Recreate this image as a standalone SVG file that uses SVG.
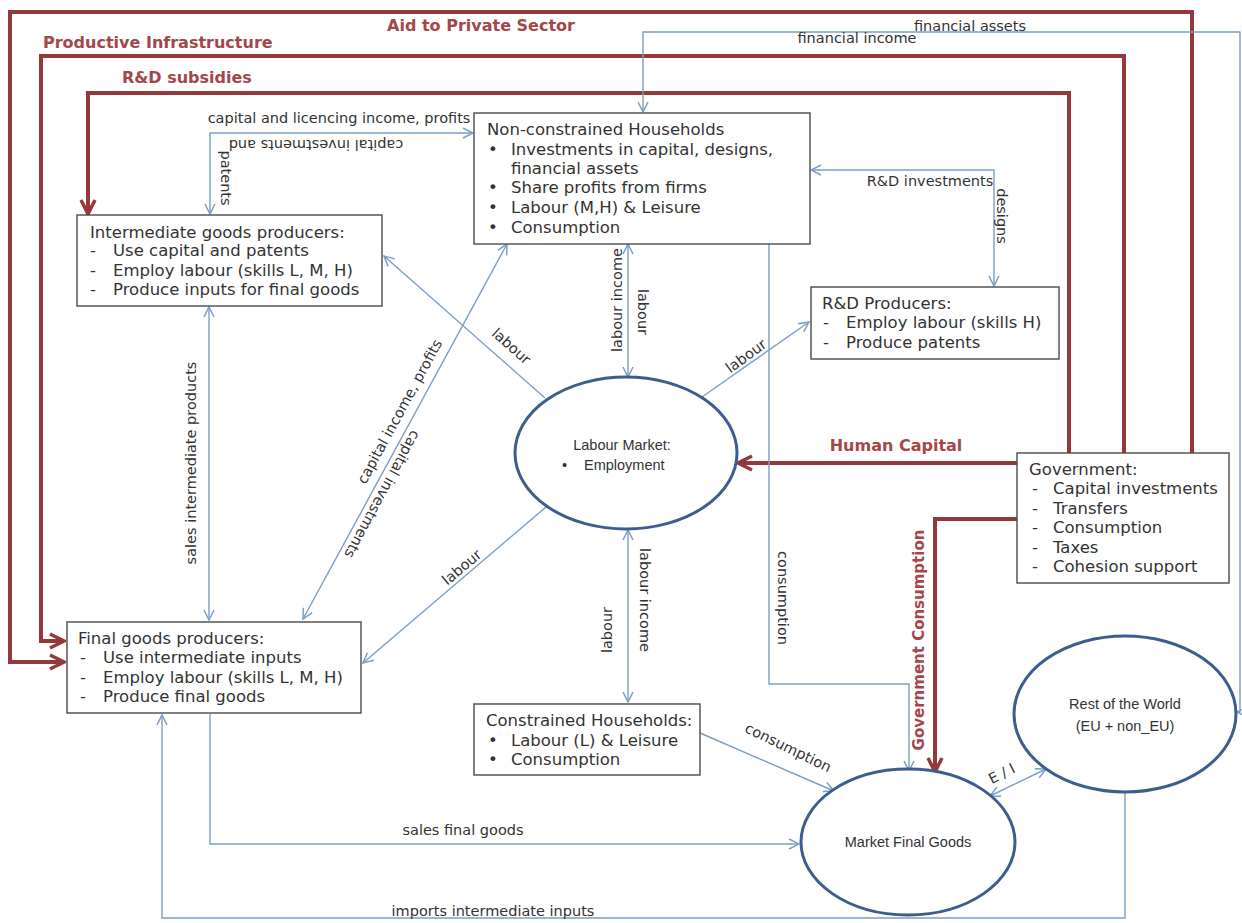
<svg xmlns="http://www.w3.org/2000/svg" width="1242" height="923" viewBox="0 0 1242 923">
<defs>
<style>
.bx{fill:#fff;stroke:#4a4a4a;stroke-width:1.4}
.el{fill:#fff;stroke:#3d5d8c;stroke-width:3}
.t{font-family:"DejaVu Sans",Verdana,sans-serif;font-size:16.5px;fill:#333}
.e{font-family:"Liberation Sans",Arial,sans-serif;font-size:14.5px;fill:#333}
.lb{font-family:"DejaVu Sans",Verdana,sans-serif;font-size:14.5px;fill:#333}
.rt{font-family:"DejaVu Sans",Verdana,sans-serif;font-size:16px;font-weight:bold;fill:#a3474a}
.bl{fill:none;stroke:#7b9ec4;stroke-width:1.4}
.rd{fill:none;stroke:#93393c;stroke-width:4}
</style>
<marker id="ab" viewBox="0 0 12 12" refX="11" refY="6" markerWidth="12" markerHeight="12" markerUnits="userSpaceOnUse" orient="auto-start-reverse"><path d="M1,1 L11,6 L1,11" fill="none" stroke="#7b9ec4" stroke-width="1.5"/></marker>
<marker id="ar" viewBox="0 0 18 18" refX="16" refY="9" markerWidth="18" markerHeight="18" markerUnits="userSpaceOnUse" orient="auto"><path d="M2,2 L16,9 L2,16" fill="none" stroke="#93393c" stroke-width="3.5"/></marker>
</defs>
<rect width="1242" height="923" fill="#fff"/>

<g id="connectors">
<path class="rd" d="M1192,453 V12 H10 V662 H64" marker-end="url(#ar)"/>
<path class="rd" d="M1124,453 V56 H41 V641 H64" marker-end="url(#ar)"/>
<path class="rd" d="M1069,453 V93 H88 V214" marker-end="url(#ar)"/>
<path class="rd" d="M1017,463 H738" marker-end="url(#ar)"/>
<path class="rd" d="M1017,519 H935 V772" marker-end="url(#ar)"/>
<path class="bl" d="M1236,712 H1240 V32 H643 V112" marker-end="url(#ab)"/>
<path class="bl" d="M1240,712 H1237" marker-end="url(#ab)"/>
<path class="bl" d="M210,214 V133 H473" marker-start="url(#ab)" marker-end="url(#ab)"/>
<path class="bl" d="M994,286 V170 H811" marker-start="url(#ab)" marker-end="url(#ab)"/>
<path class="bl" d="M209,307 V620" marker-start="url(#ab)" marker-end="url(#ab)"/>
<path class="bl" d="M545,398 L384,256" marker-end="url(#ab)"/>
<path class="bl" d="M303,619 L507,244" marker-start="url(#ab)" marker-end="url(#ab)"/>
<path class="bl" d="M628,244 V377" marker-start="url(#ab)" marker-end="url(#ab)"/>
<path class="bl" d="M702,397 L809,322" marker-end="url(#ab)"/>
<path class="bl" d="M546,507 L363,663" marker-end="url(#ab)"/>
<path class="bl" d="M628,530 V702" marker-start="url(#ab)" marker-end="url(#ab)"/>
<path class="bl" d="M769,222 V684 H909 V771" marker-end="url(#ab)"/>
<path class="bl" d="M700,733 L834,791" marker-end="url(#ab)"/>
<path class="bl" d="M210,714 V844 H799" marker-end="url(#ab)"/>
<path class="bl" d="M1125,793 V918 H162 V715" marker-end="url(#ab)"/>
<path class="bl" d="M990,796 L1046,769" marker-start="url(#ab)" marker-end="url(#ab)"/>
</g>

<g id="labels">
<text class="rt" x="481" y="31" text-anchor="middle">Aid to Private Sector</text>
<text class="rt" x="43" y="48">Productive Infrastructure</text>
<text class="rt" x="122" y="83">R&amp;D subsidies</text>
<text class="rt" x="896" y="451" text-anchor="middle">Human Capital</text>
<text class="rt" text-anchor="middle" style="font-size:15px" transform="translate(924,640) rotate(-90)">Government Consumption</text>
<text class="lb" x="857" y="43" text-anchor="middle">financial income</text>
<text class="lb" x="970" y="31" text-anchor="middle">financial assets</text>
<text class="lb" x="339" y="123" text-anchor="middle">capital and licencing income, profits</text>
<text class="lb" text-anchor="middle" transform="translate(316,140) rotate(180)">capital investments and</text>
<text class="lb" text-anchor="middle" transform="translate(221,178) rotate(90)">patents</text>
<text class="lb" x="930" y="186" text-anchor="middle">R&amp;D investments</text>
<text class="lb" text-anchor="middle" transform="translate(997,216) rotate(90)">designs</text>
<text class="lb" text-anchor="middle" transform="translate(196,463) rotate(-90)">sales intermediate products</text>
<text class="lb" text-anchor="middle" transform="translate(508,350) rotate(41.6)">labour</text>
<text class="lb" text-anchor="middle" transform="translate(404,414) rotate(-61.5)">capital income, profits</text>
<text class="lb" text-anchor="middle" transform="translate(378,492) rotate(118.5)">capital investments</text>
<text class="lb" text-anchor="middle" transform="translate(622,300) rotate(-90)">labour income</text>
<text class="lb" text-anchor="middle" transform="translate(638,312) rotate(90)">labour</text>
<text class="lb" text-anchor="middle" transform="translate(749,360) rotate(-36)">labour</text>
<text class="lb" text-anchor="middle" transform="translate(465,571) rotate(-40)">labour</text>
<text class="lb" text-anchor="middle" transform="translate(612,630) rotate(-90)">labour</text>
<text class="lb" text-anchor="middle" transform="translate(640,600) rotate(90)">labour income</text>
<text class="lb" text-anchor="middle" transform="translate(778,598) rotate(90)">consumption</text>
<text class="lb" text-anchor="middle" transform="translate(786,752) rotate(26)">consumption</text>
<text class="lb" x="463" y="835" text-anchor="middle">sales final goods</text>
<text class="lb" x="493" y="916" text-anchor="middle">imports intermediate inputs</text>
<text class="lb" text-anchor="middle" transform="translate(1004,778) rotate(-27)">E / I</text>
</g>

<g id="non-constrained-households">
<rect class="bx" x="474" y="113" width="336" height="131"/>
<text class="t" x="487" y="135">Non-constrained Households</text>
<text class="t" x="488" y="155">•</text><text class="t" x="511" y="155">Investments in capital, designs,</text>
<text class="t" x="511" y="174">financial assets</text>
<text class="t" x="488" y="193">•</text><text class="t" x="511" y="193">Share profits from firms</text>
<text class="t" x="488" y="213">•</text><text class="t" x="511" y="213">Labour (M,H) &amp; Leisure</text>
<text class="t" x="488" y="233">•</text><text class="t" x="511" y="233">Consumption</text>
</g>

<g id="intermediate-goods-producers">
<rect class="bx" x="77" y="215" width="305" height="91"/>
<text class="t" x="90" y="238">Intermediate goods producers:</text>
<text class="t" x="90" y="256">-</text><text class="t" x="113" y="256">Use capital and patents</text>
<text class="t" x="90" y="276">-</text><text class="t" x="113" y="276">Employ labour (skills L, M, H)</text>
<text class="t" x="90" y="295">-</text><text class="t" x="113" y="295">Produce inputs for final goods</text>
</g>

<g id="rd-producers">
<rect class="bx" x="811" y="287" width="248" height="72"/>
<text class="t" x="822" y="309">R&amp;D Producers:</text>
<text class="t" x="823" y="328">-</text><text class="t" x="846" y="328">Employ labour (skills H)</text>
<text class="t" x="823" y="348">-</text><text class="t" x="846" y="348">Produce patents</text>
</g>

<g id="labour-market">
<ellipse class="el" cx="626" cy="453" rx="111" ry="76"/>
<text class="e" x="622" y="450" text-anchor="middle">Labour Market:</text>
<text class="e" x="562" y="470">•</text><text class="e" x="584" y="470">Employment</text>
</g>

<g id="government">
<rect class="bx" x="1017" y="453" width="212" height="130"/>
<text class="t" x="1029" y="475">Government:</text>
<text class="t" x="1032" y="494">-</text><text class="t" x="1053" y="494">Capital investments</text>
<text class="t" x="1032" y="514">-</text><text class="t" x="1053" y="514">Transfers</text>
<text class="t" x="1032" y="533">-</text><text class="t" x="1053" y="533">Consumption</text>
<text class="t" x="1032" y="553">-</text><text class="t" x="1053" y="553">Taxes</text>
<text class="t" x="1032" y="572">-</text><text class="t" x="1053" y="572">Cohesion support</text>
</g>

<g id="final-goods-producers">
<rect class="bx" x="67" y="622" width="294" height="91"/>
<text class="t" x="78" y="644">Final goods producers:</text>
<text class="t" x="80" y="663">-</text><text class="t" x="103" y="663">Use intermediate inputs</text>
<text class="t" x="80" y="683">-</text><text class="t" x="103" y="683">Employ labour (skills L, M, H)</text>
<text class="t" x="80" y="702">-</text><text class="t" x="103" y="702">Produce final goods</text>
</g>

<g id="constrained-households">
<rect class="bx" x="474" y="704" width="226" height="71"/>
<text class="t" x="486" y="726">Constrained Households:</text>
<text class="t" x="488" y="746">•</text><text class="t" x="511" y="746">Labour (L) &amp; Leisure</text>
<text class="t" x="488" y="765">•</text><text class="t" x="511" y="765">Consumption</text>
</g>

<g id="market-final-goods">
<ellipse class="el" cx="908" cy="842" rx="107" ry="73"/>
<text class="e" x="908" y="847" text-anchor="middle">Market Final Goods</text>
</g>

<g id="rest-of-the-world">
<ellipse class="el" cx="1125" cy="714" rx="111" ry="78"/>
<text class="e" x="1125" y="709" text-anchor="middle">Rest of the World</text>
<text class="e" x="1125" y="731" text-anchor="middle">(EU + non_EU)</text>
</g>
</svg>
